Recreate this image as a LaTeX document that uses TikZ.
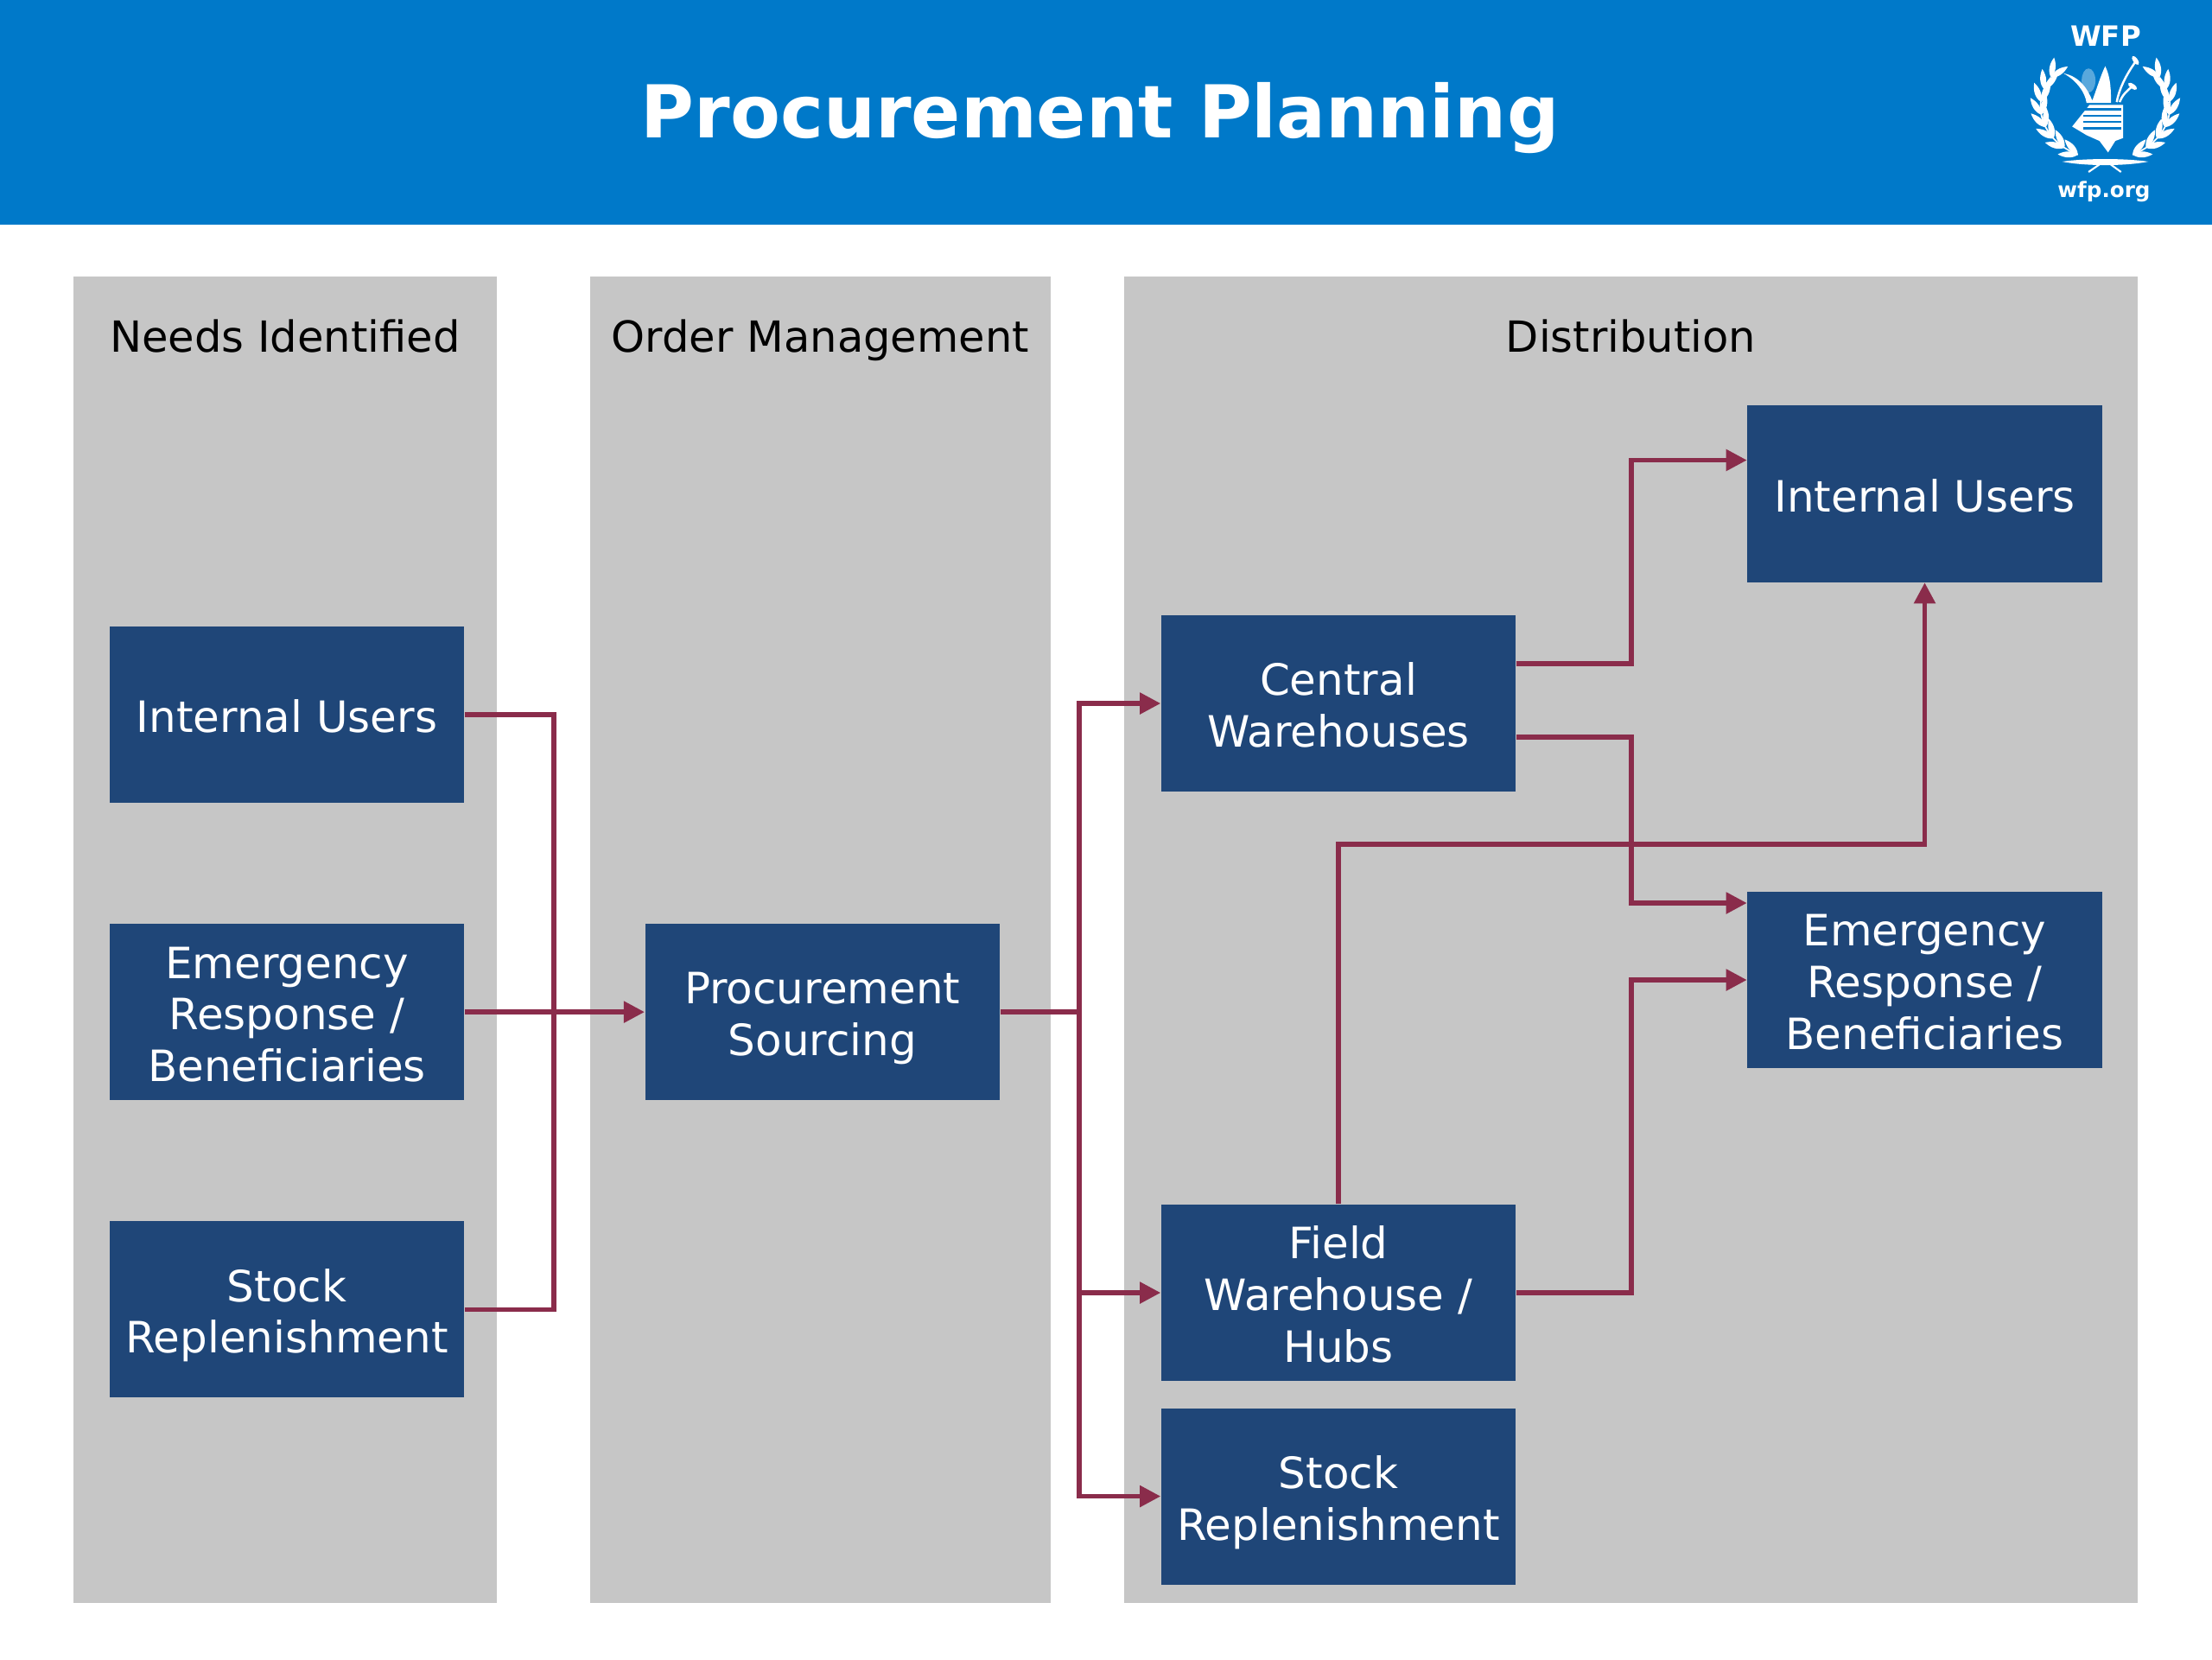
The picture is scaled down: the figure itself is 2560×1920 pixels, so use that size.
\documentclass[tikz,border=0pt]{standalone}
\usepackage{fontspec}
\setmainfont{DejaVu Sans}
\usetikzlibrary{positioning,calc,arrows.meta}
\definecolor{wfpblue}{HTML}{0079C9}
\definecolor{boxblue}{HTML}{1F4678}
\definecolor{lanegray}{HTML}{C6C6C6}
\definecolor{linkred}{HTML}{8A2C4B}
\newcommand{\linetop}{\rule{0pt}{15.2pt}}
\newcommand{\lineend}{\rule[-3.4pt]{0pt}{3.4pt}}
\begin{document}
\begin{tikzpicture}[
    x=0.01cm, y=-0.01cm,
    node distance=1.385cm,
    lane/.style={rectangle, fill=lanegray, inner sep=0pt},
    lanetitle/.style={anchor=base, font=\fontsize{14.1}{17}\selectfont, text=black},
    stepbox/.style={rectangle, fill=boxblue, text=white, minimum width=4.1cm, minimum height=2.04cm, inner sep=0pt, align=center, font=\fontsize{14.2}{17}\selectfont},
    link/.style={linkred, line width=1.5pt},
    arrow/.style={link, -{Triangle[length=0.24cm, width=0.24cm]}},
    leaf/.style={fill=white}
]
    \useasboundingbox (0,0) rectangle (2560,1920);
    \fill[white] (0,0) rectangle (2560,1920);
    \node[rectangle, fill=wfpblue, minimum width=25.6cm, minimum height=2.6cm, inner sep=0pt] (banner) at (1280,130) {};
    \node[font=\fontsize{24}{30}\bfseries\selectfont, text=white] (heading) at (1273,137) {Procurement Planning};

    % the three lanes
    \node[lane, minimum width=4.9cm, minimum height=15.35cm] (needs) at (330,1087.5) {};
    \node[lane, minimum width=5.33cm, minimum height=15.35cm] (orders) at (949.5,1087.5) {};
    \node[lane, minimum width=11.73cm, minimum height=15.35cm] (distrib) at (1887.5,1087.5) {};
    \node[lanetitle] (needstitle) at (330,407) {Needs Identified};
    \node[lanetitle] (orderstitle) at (949.5,407) {Order Management};
    \node[lanetitle] (distribtitle) at (1887.5,407) {Distribution};

    % boxes
    \node[stepbox] (needint) at (332,827) {\linetop Internal Users\lineend};
    \node[stepbox, below=of needint] (needemg) {\linetop Emergency\\Response /\\Beneficiaries\lineend};
    \node[stepbox, below=of needemg] (needstock) {\linetop Stock\\Replenishment\lineend};
    \node[stepbox, right=2.08cm of needemg] (sourcing) {\linetop Procurement\\Sourcing\lineend};
    \node[stepbox] (central) at (1549,814) {\linetop Central\\Warehouses\lineend};
    \node[stepbox] (field) at (1549,1496) {\linetop Field\\Warehouse /\\Hubs\lineend};
    \node[stepbox, below=0.3cm of field] (hubstock) {\linetop Stock\\Replenishment\lineend};
    \node[stepbox] (usersint) at (2227.5,571.5) {\linetop Internal Users\lineend};
    \node[stepbox] (usersemg) at (2227.5,1134) {\linetop Emergency\\Response /\\Beneficiaries\lineend};

    \coordinate (joinin) at (needemg -| 641,0);
    \coordinate (joinout) at (needemg -| 1249,0);
    \coordinate (crossup) at (1888,977);

    \draw[link] (needint.east) -| (joinin);
    \draw[link] (needstock.east) -| (joinin);
    \draw[arrow] (needemg.east) -- (sourcing.west);
    \draw[link] (sourcing.east) -- (joinout);
    \draw[arrow] (joinout) |- (central.west);
    \draw[arrow] (joinout) |- (field.west);
    \draw[arrow] (joinout) |- (hubstock.west);
    \draw[arrow] ($(central.east)+(0,-46)$) -| (crossup |- 0,650) |- ($(usersint.west)+(0,-39)$);
    \draw[arrow] ($(central.east)+(0,39)$) -| (crossup) |- ($(usersemg.west)+(0,-89)$);
    \draw[arrow] (field.east) -| (crossup |- usersemg) -- (usersemg.west);
    \draw[arrow] (field.north) |- (crossup) -| (usersint.south);

    % logo
    \node[font=\fontsize{9.2}{11}\bfseries\selectfont, text=white] (wfpname) at (2437,42) {WFP};
    \node[font=\fontsize{7}{9}\bfseries\selectfont, text=white] (wfpurl) at (2435,222) {wfp.org};
    \begin{scope}[shift={(2280,0)}, x=0.00333cm, y=-0.00333cm]
        \begin{scope}[shift={(470,370)}, y=0.00333cm]
            \foreach \side in {1,-1} {
                \begin{scope}[xscale=\side]
                    \draw[white, line width=0.5pt] (147:225 and 185) arc[start angle=147, end angle=245, x radius=225, y radius=185];
                    \foreach \t in {147,161,175,189,203,217,231,245} {
                        \fill[leaf, shift={(\t:225 and 185)}, rotate=\t-90+24] (0,0) .. controls (20,15) and (46,13) .. (70,0) .. controls (46,-13) and (20,-15) .. (0,0);
                        \fill[leaf, shift={(\t:225 and 185)}, rotate=\t-90-24] (0,0) .. controls (20,15) and (46,13) .. (70,0) .. controls (46,-13) and (20,-15) .. (0,0);
                    }
                \end{scope}
            }
        \end{scope}
        % stems under the wreath
        \fill[white] (320,562) .. controls (400,550) and (540,550) .. (620,562) .. controls (540,578) and (400,578) .. (320,562);
        \draw[white, line width=0.6pt] (412,598) -- (470,558) (525,598) -- (470,558);
        % emblem
        \fill[white] (355,440) -- (415,365) -- (532,365) -- (532,480) -- (505,490) -- (480,530) -- (450,490) -- (405,470) -- cycle;
        \foreach \ya in {380,402,424,446} {
            \draw[wfpblue, line width=0.7pt] (395,\ya) -- (525,\ya);
        }
        \fill[white!35!wfpblue] (412,280) ellipse (24 and 42);
        \fill[white] (325,255) .. controls (380,265) and (410,310) .. (425,350) .. controls (440,310) and (455,260) .. (470,230) .. controls (490,270) and (490,320) .. (490,358) -- (405,358) .. controls (400,320) and (370,280) .. (325,255);
        \draw[white, line width=0.7pt] (510,355) .. controls (520,300) and (550,250) .. (575,215);
        \draw[white, line width=0.7pt] (520,355) .. controls (530,330) and (545,315) .. (565,300);
        \fill[white, rotate around={-55:(575,210)}] (575,210) ellipse (18 and 8);
        \fill[white, rotate around={-35:(565,300)}] (565,300) ellipse (18 and 8);
    \end{scope}
\end{tikzpicture}
\end{document}
